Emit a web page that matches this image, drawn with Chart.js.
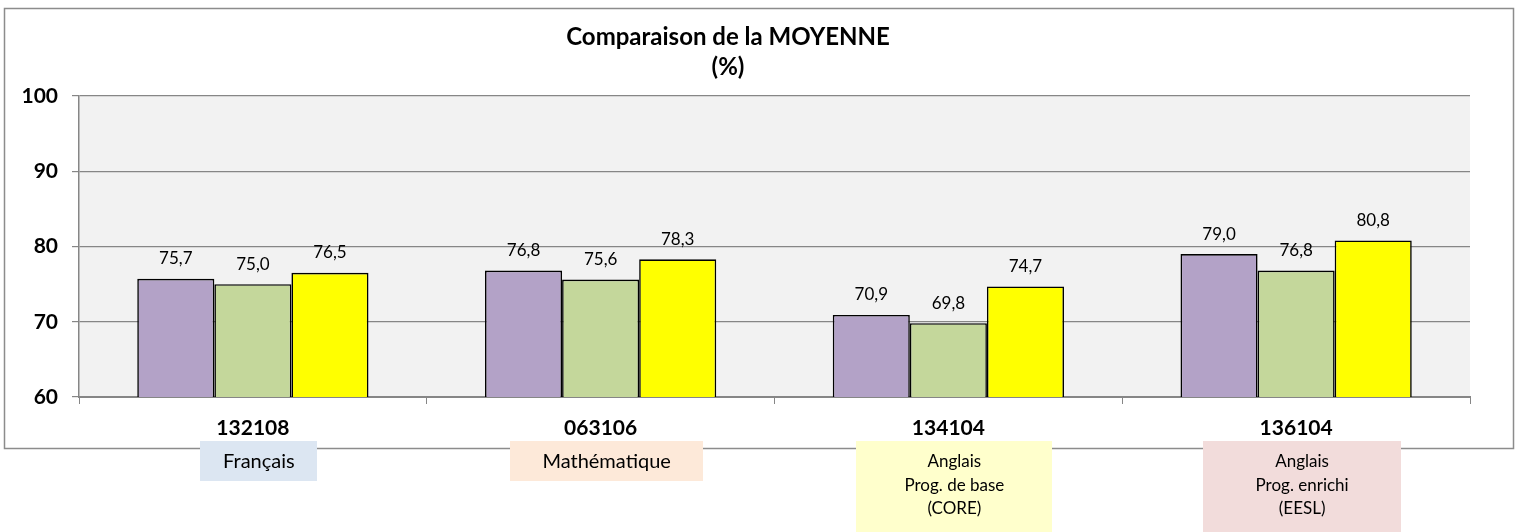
<!DOCTYPE html>
<html lang="fr">
<head>
<meta charset="utf-8">
<title>Comparaison de la MOYENNE</title>
<script src="https://cdn.jsdelivr.net/npm/chart.js@4.4.1/dist/chart.umd.min.js"></script>
<style>
  html, body { margin: 0; padding: 0; background: #fff; }
  #wrap { width: 1520px; height: 532px; position: relative; }
</style>
</head>
<body>
<div id="wrap"><canvas id="chart"></canvas></div>
<script>
// données
const groupes = ['132108', '063106', '134104', '136104'];
const matieres = [
  ['Français'],
  ['Mathématique'],
  ['Anglais', 'Prog. de base', '(CORE)'],
  ['Anglais', 'Prog. enrichi', '(EESL)']
];
const serie1 = [75.7, 76.8, 70.9, 79.0];
const serie2 = [75.0, 75.6, 69.8, 76.8];
const serie3 = [76.5, 78.3, 74.7, 80.8];
const yTicks = [60, 70, 80, 90, 100];

// styles
const couleursSeries = ['#b3a2c7', '#c4d79b', '#ffff00'];
const couleursBoites = ['#dce6f2', '#fde9d9', '#ffffcc', '#f2dcdb'];
const largeursBoites = [117, 193, 196, 198];
const taillesBoites = [20, 20, 17, 17];
const FONT = 'Lato, "Open Sans", sans-serif';

const fmt = v => v.toFixed(1).replace('.', ',');

// fond du graphique + cadre + fond gris de la zone de tracé
const fondPlugin = {
  id: 'fond',
  beforeDraw(chart) {
    const { ctx, chartArea: a } = chart;
    ctx.save();
    ctx.fillStyle = '#fff';
    ctx.fillRect(0, 0, chart.width, chart.height);
    ctx.strokeStyle = '#8c8c8c';
    ctx.lineWidth = 1.5;
    ctx.strokeRect(4.5, 8.5, 1509, 440);
    ctx.fillStyle = '#f2f2f2';
    ctx.fillRect(a.left, a.top, a.right - a.left, a.bottom - a.top);
    ctx.restore();
  }
};

// titre (deux lignes)
const titrePlugin = {
  id: 'titre',
  afterDraw(chart) {
    const { ctx } = chart;
    ctx.save();
    ctx.fillStyle = '#000';
    ctx.font = 'bold 24px ' + FONT;
    ctx.textAlign = 'center';
    ctx.textBaseline = 'middle';
    ctx.fillText('Comparaison de la MOYENNE', 728, 37);
    ctx.fillText('(%)', 728, 67);
    ctx.restore();
  }
};

// étiquettes de valeurs au-dessus des barres
const valeursPlugin = {
  id: 'valeurs',
  afterDatasetsDraw(chart) {
    const { ctx } = chart;
    ctx.save();
    ctx.fillStyle = '#000';
    ctx.font = '17px ' + FONT;
    ctx.textAlign = 'center';
    ctx.textBaseline = 'middle';
    chart.data.datasets.forEach((ds, i) => {
      chart.getDatasetMeta(i).data.forEach((bar, j) => {
        ctx.fillText(fmt(ds.data[j]), bar.x, bar.y - 20);
      });
    });
    ctx.restore();
  }
};

// boîtes de matières sous les codes de groupe
const matieresPlugin = {
  id: 'matieres',
  afterDraw(chart) {
    const { ctx } = chart;
    const x = chart.scales.x;
    ctx.save();
    ctx.textAlign = 'center';
    ctx.textBaseline = 'middle';
    matieres.forEach((lignes, i) => {
      const cx = x.getPixelForValue(i) + 6;
      const w = largeursBoites[i];
      const h = lignes.length > 1 ? 92 : 40;
      ctx.fillStyle = couleursBoites[i];
      ctx.fillRect(Math.round(cx - w / 2), 441, w, h);
      ctx.fillStyle = '#000';
      ctx.font = taillesBoites[i] + 'px ' + FONT;
      lignes.forEach((t, k) => ctx.fillText(t, cx, 462 + k * 23.5));
    });
    ctx.restore();
  }
};

new Chart(document.getElementById('chart'), {
  type: 'bar',
  data: {
    labels: groupes,
    datasets: [serie1, serie2, serie3].map((d, i) => ({
      label: 'Série ' + (i + 1),
      data: d,
      backgroundColor: couleursSeries[i],
      borderColor: '#000',
      borderWidth: 1.6,
      categoryPercentage: 0.665,
      barPercentage: 1.0
    }))
  },
  options: {
    responsive: true,
    maintainAspectRatio: false,
    animation: false,
    layout: { padding: { left: 0, right: 50, top: 96, bottom: 0 } },
    plugins: {
      legend: { display: false },
      title: { display: false },
      tooltip: { enabled: false }
    },
    scales: {
      x: {
        afterFit(s) { s.height = 135; },
        border: { color: '#868686', width: 2 },
        grid: { drawOnChartArea: false, drawTicks: true, tickLength: 7, color: '#868686', offset: true },
        ticks: { color: '#000', padding: 12, font: { family: FONT, size: 21, weight: 'bold' } }
      },
      y: {
        min: 60,
        max: 100,
        afterFit(s) { s.width = 79; },
        afterBuildTicks(s) { s.ticks = yTicks.map(v => ({ value: v })); },
        border: { color: '#868686', width: 1.5 },
        grid: { color: '#868686', lineWidth: 1.2, tickLength: 7 },
        ticks: { color: '#000', padding: 14, font: { family: FONT, size: 21, weight: 'bold' } }
      }
    }
  },
  plugins: [fondPlugin, valeursPlugin, titrePlugin, matieresPlugin]
});
</script>
</body>
</html>
